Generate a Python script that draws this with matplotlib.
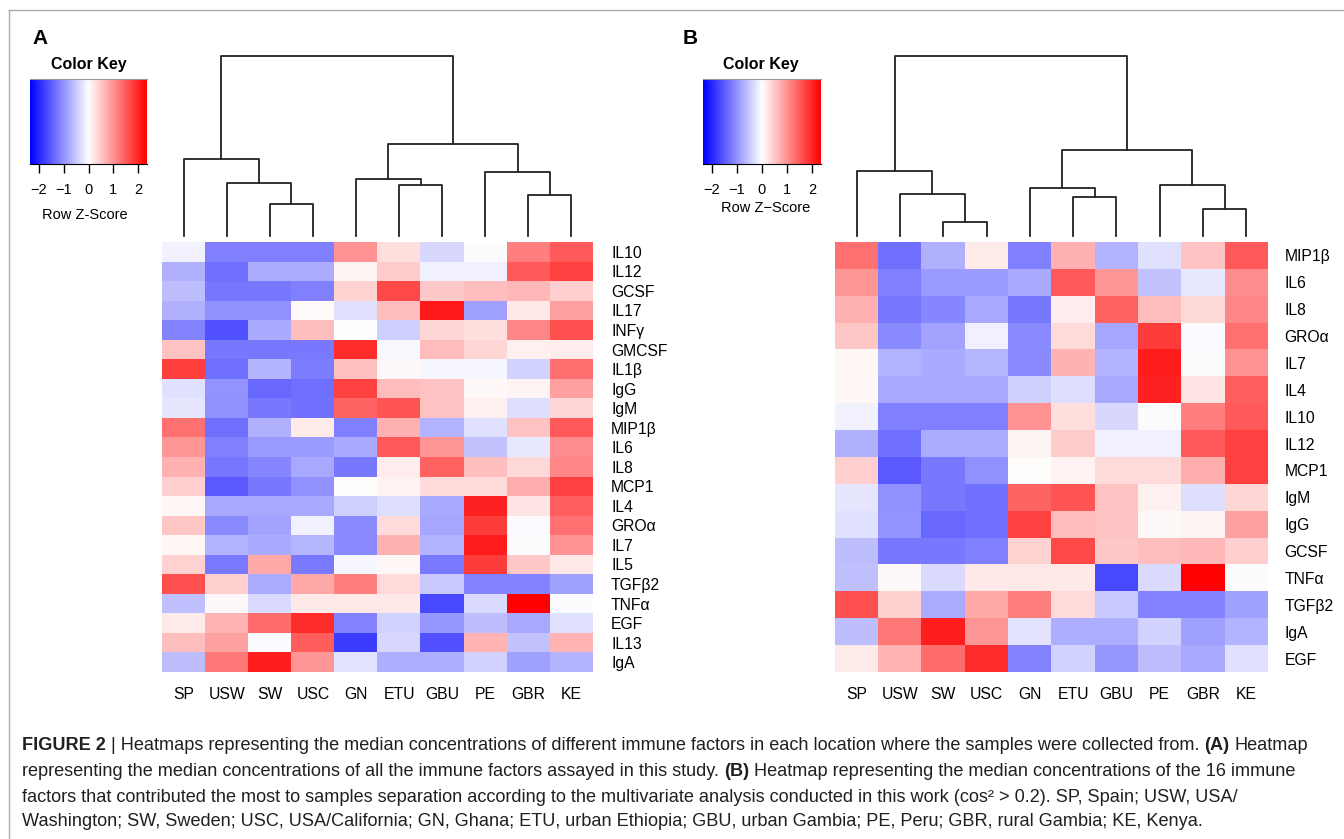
import numpy as np
import matplotlib
matplotlib.use('Agg')
import matplotlib.pyplot as plt
from matplotlib.colors import LinearSegmentedColormap
from matplotlib.lines import Line2D

plt.rcParams['font.family'] = ['Liberation Sans', 'DejaVu Sans']

# ---- data ----
locations = ['SP', 'USW', 'SW', 'USC', 'GN', 'ETU', 'GBU', 'PE', 'GBR', 'KE']

factors_a = ['IL10', 'IL12', 'GCSF', 'IL17', 'INFγ', 'GMCSF', 'IL1β', 'IgG', 'IgM',
             'MIP1β', 'IL6', 'IL8', 'MCP1', 'IL4', 'GROα', 'IL7', 'IL5', 'TGFβ2',
             'TNFα', 'EGF', 'IL13', 'IgA']
factors_b = ['MIP1β', 'IL6', 'IL8', 'GROα', 'IL7', 'IL4', 'IL10', 'IL12', 'MCP1',
             'IgM', 'IgG', 'GCSF', 'TNFα', 'TGFβ2', 'IgA', 'EGF']

# row z-scores, columns in the order of `locations`
zscore = {
    'IL10':  [-0.12, -1.18, -1.18, -1.18, 1.00, 0.30, -0.36, -0.02, 1.18, 1.53],
    'IL12':  [-0.73, -1.32, -0.77, -0.77, 0.10, 0.47, -0.14, -0.14, 1.53, 1.76],
    'GCSF':  [-0.60, -1.27, -1.25, -1.18, 0.42, 1.69, 0.51, 0.60, 0.65, 0.46],
    'IL17':  [-0.73, -1.02, -1.02, 0.05, -0.28, 0.60, 2.13, -0.88, 0.21, 0.88],
    'INFγ':  [-1.16, -1.60, -0.79, 0.60, 0.00, -0.46, 0.37, 0.31, 1.11, 1.62],
    'GMCSF': [0.56, -1.25, -1.25, -1.25, 1.94, -0.06, 0.62, 0.38, 0.14, 0.18],
    'IL1β':  [1.78, -1.34, -0.69, -1.20, 0.58, 0.06, -0.09, -0.09, -0.42, 1.34],
    'IgG':   [-0.29, -0.99, -1.39, -1.34, 1.76, 0.62, 0.56, 0.06, 0.10, 0.88],
    'IgM':   [-0.23, -1.02, -1.25, -1.30, 1.43, 1.57, 0.56, 0.14, -0.31, 0.37],
    'MIP1β': [1.30, -1.32, -0.73, 0.19, -1.18, 0.73, -0.71, -0.28, 0.56, 1.53],
    'IL6':   [0.97, -1.18, -0.93, -0.93, -0.79, 1.53, 0.97, -0.56, -0.21, 1.06],
    'IL8':   [0.73, -1.27, -1.11, -0.81, -1.25, 0.18, 1.45, 0.60, 0.36, 1.11],
    'MCP1':  [0.46, -1.53, -1.25, -1.02, 0.03, 0.12, 0.34, 0.34, 0.74, 1.76],
    'IL4':   [0.09, -0.81, -0.81, -0.81, -0.43, -0.31, -0.81, 2.04, 0.25, 1.48],
    'GROα':  [0.53, -1.08, -0.83, -0.14, -1.08, 0.34, -0.82, 1.79, -0.04, 1.30],
    'IL7':   [0.09, -0.71, -0.79, -0.68, -1.08, 0.71, -0.69, 2.10, -0.02, 0.99],
    'IL5':   [0.42, -1.23, 0.81, -1.23, -0.09, 0.09, -1.23, 1.79, 0.51, 0.21],
    'TGFβ2': [1.62, 0.43, -0.77, 0.81, 1.18, 0.34, -0.51, -1.14, -1.14, -0.88],
    'TNFα':  [-0.58, 0.07, -0.34, 0.21, 0.21, 0.21, -1.69, -0.34, 2.36, -0.02],
    'EGF':   [0.20, 0.70, 1.35, 1.95, -1.15, -0.42, -0.97, -0.60, -0.80, -0.28],
    'IL13':  [0.60, 0.88, -0.05, 1.50, -1.80, -0.37, -1.60, 0.69, -0.56, 0.69],
    'IgA':   [-0.60, 1.25, 2.08, 0.97, -0.25, -0.74, -0.74, -0.42, -0.88, -0.69],
}

# column dendrograms: (left id, right id, height); ids >= 10 are earlier merges
merges_a = [(2, 3, 1.60), (1, 10, 2.65), (0, 11, 3.85), (5, 6, 2.55), (4, 13, 2.82),
            (8, 9, 2.02), (7, 15, 3.17), (14, 16, 4.57), (12, 17, 9.00)]
merges_b = [(2, 3, 0.67), (1, 10, 2.09), (0, 11, 3.25), (5, 6, 1.94), (4, 13, 2.40),
            (8, 9, 1.35), (7, 15, 2.52), (14, 16, 4.30), (12, 17, 9.00)]

zmin, zmax = -2.36, 2.36
key_ticks = [-2, -1, 0, 1, 2]

caption = [
    [('FIGURE 2', True),
     ('| Heatmaps representing the median concentrations of different immune factors in each location where the samples were collected from.', False),
     ('(A)', True), ('Heatmap', False)],
    [('representing the median concentrations of all the immune factors assayed in this study.', False),
     ('(B)', True), ('Heatmap representing the median concentrations of the 16 immune', False)],
    [('factors that contributed the most to samples separation according to the multivariate analysis conducted in this work (cos² > 0.2). SP, Spain; USW, USA/', False)],
    [('Washington; SW, Sweden; USC, USA/California; GN, Ghana; ETU, urban Ethiopia; GBU, urban Gambia; PE, Peru; GBR, rural Gambia; KE, Kenya.', False)],
]

# ---- figure ----
W, H = 1344, 839
fig = plt.figure(figsize=(W / 100, H / 100), dpi=100)
cmap = LinearSegmentedColormap.from_list('bluered', ['#0000ff', '#ffffff', '#ff0000'])


def box(x0, y0, x1, y1):
    # axes from a pixel box (origin top-left)
    return fig.add_axes([x0 / W, 1 - y1 / H, (x1 - x0) / W, (y1 - y0) / H])


def put(x, y, s, **kw):
    return fig.text(x / W, 1 - y / H, s, **kw)


def draw_dendrogram(ax, merges, n):
    xpos = {i: float(i) for i in range(n)}
    hpos = {i: 0.0 for i in range(n)}
    for k, (l, r, h) in enumerate(merges):
        ax.plot([xpos[l], xpos[l], xpos[r], xpos[r]], [hpos[l], h, h, hpos[r]],
                color='#222222', lw=1.3, clip_on=False)
        xpos[n + k] = (xpos[l] + xpos[r]) / 2
        hpos[n + k] = h
    ax.set_xlim(-0.5, n - 0.5)
    ax.set_ylim(0, merges[-1][2])
    ax.axis('off')


def draw_heatmap(ax, rows, pad):
    mat = np.array([zscore[f] for f in rows])
    ax.imshow(mat, cmap=cmap, vmin=zmin, vmax=zmax, aspect='auto', interpolation='nearest')
    ax.yaxis.tick_right()
    ax.set_yticks(range(len(rows)))
    ax.set_yticklabels(rows)
    ax.set_xticks(range(len(locations)))
    ax.set_xticklabels(locations)
    ax.tick_params(axis='y', length=0, pad=pad, labelsize=11.3)
    ax.tick_params(axis='x', length=0, pad=10.5, labelsize=11.3)
    for s in ax.spines.values():
        s.set_visible(False)


def color_key(x0, x1):
    ax = box(x0, 79, x1, 164)
    ax.imshow(np.linspace(zmin, zmax, 256)[None, :], cmap=cmap, vmin=zmin, vmax=zmax,
              aspect='auto', extent=[zmin, zmax, 0, 1])
    ax.set_yticks([])
    ax.set_xticks(key_ticks)
    ax.tick_params(axis='x', length=6.5, width=1, pad=7, labelsize=10.5)
    ax.spines['left'].set_visible(False)
    ax.spines['right'].set_visible(False)
    ax.spines['top'].set_color('#999999')
    ax.spines['top'].set_linewidth(0.8)


# panel A
draw_dendrogram(box(162, 55.7, 593, 235.7), merges_a, len(locations))
draw_heatmap(box(162, 242, 593, 672), factors_a, 13)
color_key(30, 147)
put(32, 38, 'A', fontsize=15, fontweight='bold', va='center')
put(88.5, 64.5, 'Color Key', fontsize=11.5, fontweight='bold', ha='center', va='center')
put(85, 215, 'Row Z-Score', fontsize=10.5, ha='center', va='center')

# panel B
draw_dendrogram(box(835, 55.7, 1268, 235.7), merges_b, len(locations))
draw_heatmap(box(835, 242, 1268, 672), factors_b, 12)
color_key(703, 821)
put(683, 38, 'B', fontsize=15, fontweight='bold', va='center')
put(761, 65, 'Color Key', fontsize=11.5, fontweight='bold', ha='center', va='center')
put(766, 208, 'Row Z\u2212Score', fontsize=10.5, ha='center', va='center')

# frame
fig.add_artist(Line2D([8.5 / W, 8.5 / W], [0, 1 - 10 / H], color='#aaaaaa', lw=1))
fig.add_artist(Line2D([8.5 / W, 1], [1 - 10 / H, 1 - 10 / H], color='#aaaaaa', lw=1))

# caption with bold pieces, sized so the first line spans the frame
renderer = fig.canvas.get_renderer()


def measure(s, bold, size):
    t = put(0, 0, s, fontsize=size, fontweight='bold' if bold else 'normal')
    w = t.get_window_extent(renderer).width
    t.remove()
    return w


def line_width(parts, size):
    gap = measure('a a', False, size) - measure('aa', False, size)
    return sum(measure(s, b, size) for s, b in parts) + gap * (len(parts) - 1)


cap_size = 10 * (1318 - 22) / line_width(caption[0], 10)
gap = measure('a a', False, cap_size) - measure('aa', False, cap_size)
for y, parts in zip([746, 771, 797, 822], caption):
    x = 22
    for s, b in parts:
        t = put(x, y, s, fontsize=cap_size, fontweight='bold' if b else 'normal',
                va='center', color='#231f20')
        x += t.get_window_extent(renderer).width + gap

fig.savefig('out.png', dpi=100)
